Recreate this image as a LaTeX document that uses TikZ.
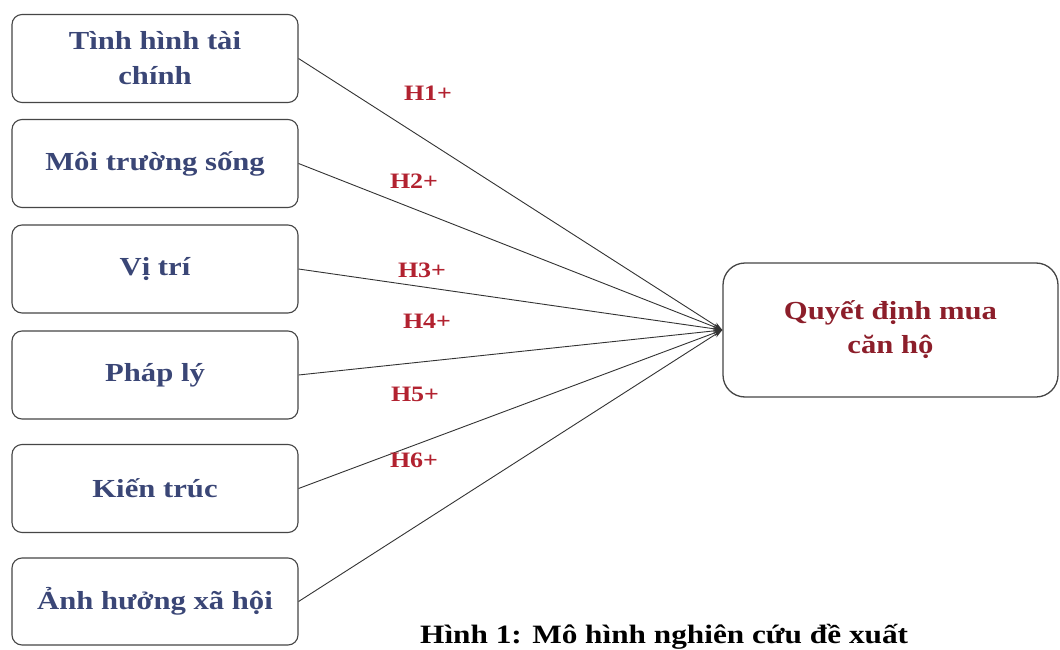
\documentclass[tikz,border=0pt]{standalone}
\usepackage{fontspec}
\setmainfont{Liberation Serif}
\newfontfamily\widefont[FakeStretch=1.18]{Liberation Serif}
\usetikzlibrary{arrows.meta}
\definecolor{boxblue}{RGB}{58,70,118}
\definecolor{outred}{RGB}{140,30,42}
\definecolor{labred}{RGB}{178,34,48}
\definecolor{edgegray}{RGB}{70,70,70}
\begin{document}
\begin{tikzpicture}[x=1pt,y=-1pt,
  factor/.style={draw=edgegray, line width=1.1pt, rounded corners=10pt,
    minimum width=286pt, minimum height=88pt, inner sep=0pt, align=center,
    text=boxblue, font=\widefont\bfseries\fontsize{26}{35}\selectfont},
  outbox/.style={draw=edgegray, line width=1.3pt, rounded corners=22pt,
    minimum width=335pt, minimum height=134pt, inner sep=0pt, align=center,
    text=outred, font=\widefont\bfseries\fontsize{26}{34}\selectfont},
  conn/.style={draw=black!80, line width=0.9pt, -{Stealth[length=9pt,width=6pt]}},
  hlabel/.style={text=labred, inner sep=0pt, font=\widefont\bfseries\fontsize{22}{24}\selectfont},
  caption/.style={text=black, inner sep=0pt, anchor=base west,
    font=\widefont\bfseries\fontsize{26.5}{30}\selectfont}]
\useasboundingbox (0,0) rectangle (1060,650);
\fill[white] (0,0) rectangle (1060,650);

\node[factor] (f1) at (155,58.5) {Tình hình tài\\chính};
\node[factor] (f2) at (155,163.5) {Môi trường sống};
\node[factor] (f3) at (155,269) {Vị trí};
\node[factor] (f4) at (155,375) {Pháp lý};
\node[factor] (f5) at (155,488.5) {Kiến trúc};
\node[factor, minimum height=87pt] (f6) at (155,601.5) {Ảnh hưởng xã hội};

\node[outbox] (out) at (890.5,330) {Quyết định mua\\căn hộ};

\foreach \i in {1,...,6} {
  \draw[conn] (f\i.east) -- (out.west);
}

\node[hlabel] (h1) at (428,93) {H1+};
\node[hlabel] (h2) at (414,181) {H2+};
\node[hlabel] (h3) at (422,270) {H3+};
\node[hlabel] (h4) at (427,321) {H4+};
\node[hlabel] (h5) at (415,394) {H5+};
\node[hlabel] (h6) at (414,460) {H6+};

\node[caption] (cap) at (420,643) {Hình 1: Mô hình nghiên cứu đề xuất};
\end{tikzpicture}
\end{document}
